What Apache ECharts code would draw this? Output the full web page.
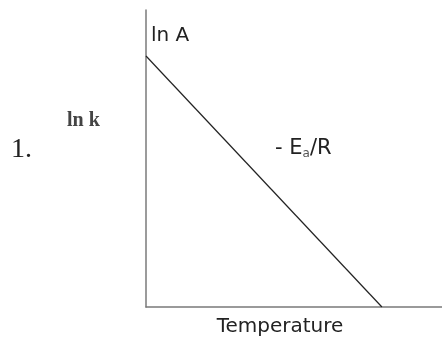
<!DOCTYPE html>
<html>
<head>
<meta charset="utf-8">
<script src="https://cdn.jsdelivr.net/npm/echarts@6/dist/echarts.min.js"></script>
<style>
  html, body { margin: 0; padding: 0; background: #fff; }
  #chart { width: 442px; height: 342px; }
</style>
</head>
<body>
<div id="chart"></div>
<script>
// Arrhenius-style sketch: ln k falls linearly, intercept ln A, slope -Ea/R
const temperature = [0, 79.7];
const lnK = [84.5, 0];
const xName = 'Temperature';
const yName = 'ln k';
const interceptLabel = 'ln A';
const plotNumber = '1.';

const chart = echarts.init(document.getElementById('chart'));
const axisLine = { lineStyle: { color: '#7a7a7a', width: 1.5 } };

chart.setOption({
  animation: false,
  backgroundColor: '#ffffff',
  grid: { left: 146, right: 0, top: 10, bottom: 35, outerBoundsMode: 'none', containLabel: false },
  xAxis: {
    type: 'value', min: 0, max: 100,
    name: xName, nameLocation: 'middle', nameGap: 10,
    nameTextStyle: { fontFamily: 'DejaVu Sans', fontSize: 20, color: '#222', padding: [0, 0, 0, -28] },
    axisLine: axisLine, axisTick: { show: false }, axisLabel: { show: false }, splitLine: { show: false }
  },
  yAxis: {
    type: 'value', min: 0, max: 100,
    axisLine: axisLine, axisTick: { show: false }, axisLabel: { show: false }, splitLine: { show: false }
  },
  series: [{
    type: 'line',
    data: temperature.map((t, i) => [t, lnK[i]]),
    symbol: 'none',
    lineStyle: { color: '#222', width: 1.2 },
    markPoint: {
      symbol: 'rect', symbolSize: 0,
      data: [{ coord: [temperature[0], lnK[0]] }],
      label: {
        show: true, formatter: interceptLabel, position: 'right',
        offset: [0, -20],
        fontFamily: 'DejaVu Sans', fontSize: 20, color: '#222'
      }
    }
  }],
  graphic: [
    { type: 'text', left: 67, top: 111,
      style: { text: yName, font: 'bold 20px "Liberation Serif"', fill: '#444' } },
    { type: 'text', left: 11, top: 136,
      style: { text: plotNumber, font: '28px "Liberation Serif"', fill: '#222' } },
    { type: 'text', left: 275, top: 138,
      style: {
        text: '{m|- E}{s|a}{m|/R}',
        rich: {
          m: { font: '21px "DejaVu Sans"', fill: '#222' },
          s: { font: '12px "DejaVu Sans"', fill: '#555', verticalAlign: 'bottom', padding: [10, 0, 0, 0] }
        }
      } }
  ]
});
</script>
</body>
</html>
